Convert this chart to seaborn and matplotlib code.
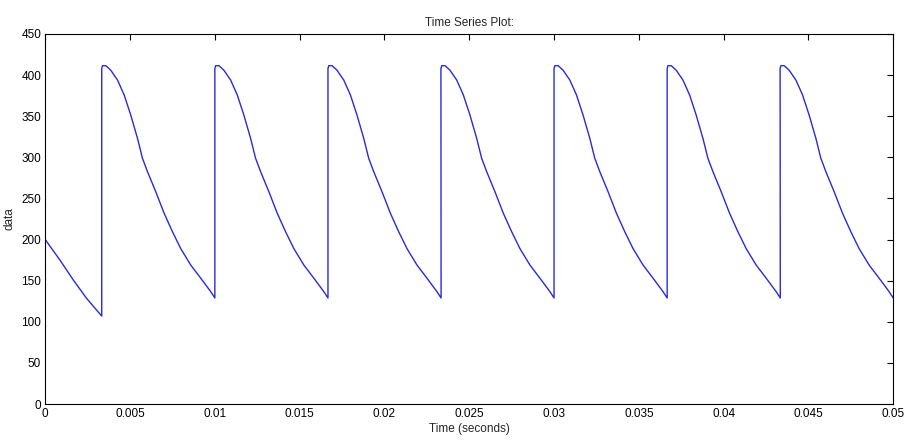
import numpy as np
import pandas as pd
import matplotlib
matplotlib.use("Agg")
import matplotlib.pyplot as plt
import seaborn as sns

# first partial segment, before the first jump
first_t = [0.0, 0.00087, 0.00165, 0.00244, 0.00333]
first_v = [200, 175, 151, 128.5, 107]

# one cycle (time after each jump, value)
cycle_dt = [0.0, 0.00005, 0.00024, 0.00053, 0.00093, 0.00132, 0.00171, 0.00211,
            0.0024, 0.0027, 0.00319, 0.00368, 0.00417, 0.00466, 0.00525,
            0.00584, 0.00643, 0.00667]
cycle_v = [408, 411.5, 411.5, 406, 394, 376, 351.5, 323, 299, 282.5, 258, 232,
           209.6, 189, 169, 153, 136.6, 129]

jump_times = [0.00333, 0.01, 0.01667, 0.02333, 0.03, 0.03667, 0.04333]

xticks = [0, 0.005, 0.01, 0.015, 0.02, 0.025, 0.03, 0.035, 0.04, 0.045, 0.05]
xticklabels = ["0", "0.005", "0.01", "0.015", "0.02", "0.025", "0.03",
               "0.035", "0.04", "0.045", "0.05"]
yticks = [0, 50, 100, 150, 200, 250, 300, 350, 400, 450]

t = list(first_t)
v = list(first_v)
for j in jump_times:
    t += [j + d for d in cycle_dt]
    v += cycle_v
df = pd.DataFrame({"time": t, "data": v})

sns.set_style("white")
plt.rcParams["font.family"] = ["Liberation Sans Narrow", "Liberation Sans", "DejaVu Sans"]

fig = plt.figure(figsize=(9.05, 4.47), dpi=100)
ax = fig.add_axes([0.05, 0.096, 0.937, 0.828])
sns.lineplot(data=df, x="time", y="data", estimator=None, sort=False,
             color="#2a2ad8", linewidth=1.0, ax=ax)

ax.set_xlim(0, 0.05)
ax.set_ylim(0, 450)
ax.set_xticks(xticks)
ax.set_xticklabels(xticklabels)
ax.set_yticks(yticks)
ax.tick_params(direction="in", top=True, right=True, length=4, width=0.8,
               labelsize=8.5, colors="black", pad=3)
for s in ax.spines.values():
    s.set_color("black")
    s.set_linewidth(0.8)
ax.set_xlabel("Time (seconds)", fontsize=8.5, labelpad=2)
ax.set_ylabel("data", fontsize=8.5, labelpad=4)
ax.set_title("Time Series Plot:", fontsize=8.5, pad=6)

fig.savefig("out.png", dpi=100)
